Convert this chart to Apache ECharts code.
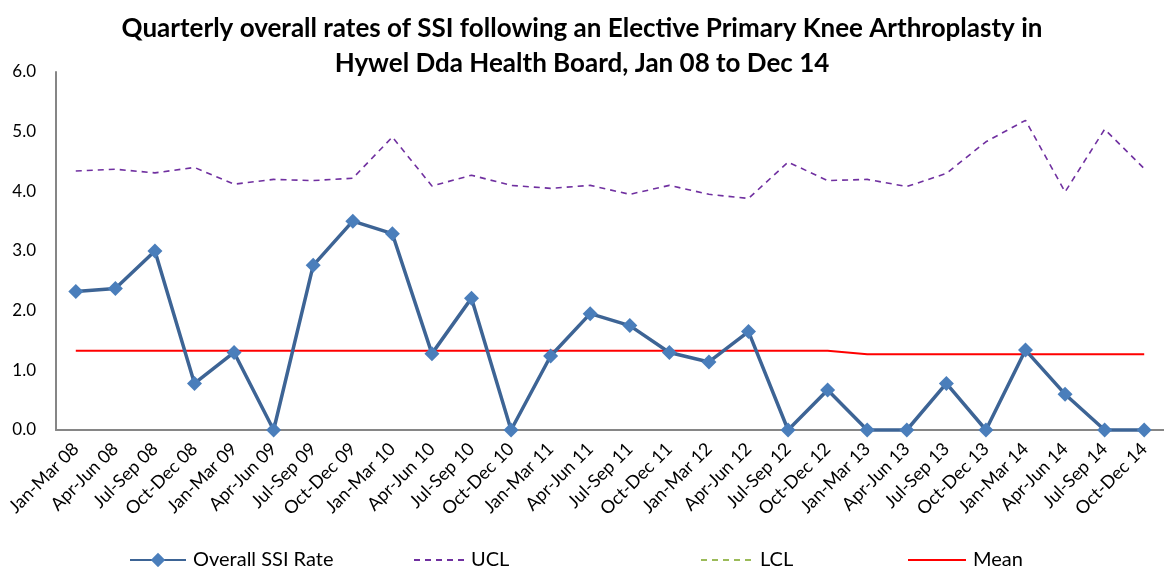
<!DOCTYPE html>
<html>
<head>
<meta charset="utf-8">
<title>SSI knee arthroplasty</title>
<script src="https://cdn.jsdelivr.net/npm/echarts@6/dist/echarts.min.js"></script>
<style>
  html, body { margin: 0; padding: 0; background: #fff; }
  #chart { width: 1164px; height: 567px; }
</style>
</head>
<body>
<div id="chart"></div>
<script>
// quarters
var quarters = [
  "Jan-Mar 08", "Apr-Jun 08", "Jul-Sep 08", "Oct-Dec 08",
  "Jan-Mar 09", "Apr-Jun 09", "Jul-Sep 09", "Oct-Dec 09",
  "Jan-Mar 10", "Apr-Jun 10", "Jul-Sep 10", "Oct-Dec 10",
  "Jan-Mar 11", "Apr-Jun 11", "Jul-Sep 11", "Oct-Dec 11",
  "Jan-Mar 12", "Apr-Jun 12", "Jul-Sep 12", "Oct-Dec 12",
  "Jan-Mar 13", "Apr-Jun 13", "Jul-Sep 13", "Oct-Dec 13",
  "Jan-Mar 14", "Apr-Jun 14", "Jul-Sep 14", "Oct-Dec 14"
];
var ssiRate = [
  2.32, 2.37, 3.0, 0.78, 1.30, 0.0, 2.76, 3.50,
  3.29, 1.28, 2.21, 0.0, 1.24, 1.95, 1.75, 1.30,
  1.14, 1.65, 0.0, 0.67, 0.0, 0.0, 0.78, 0.0,
  1.34, 0.60, 0.0, 0.0
];
var ucl = [
  4.34, 4.37, 4.31, 4.40, 4.12, 4.20, 4.18, 4.22,
  4.91, 4.09, 4.27, 4.10, 4.05, 4.10, 3.95, 4.10,
  3.95, 3.88, 4.49, 4.18, 4.20, 4.08, 4.30, 4.83,
  5.19, 3.99, 5.04, 4.38
];
// LCL sits below zero, nothing shows on the plot
var lcl = [];
var mean = [
  1.33, 1.33, 1.33, 1.33, 1.33, 1.33, 1.33, 1.33,
  1.33, 1.33, 1.33, 1.33, 1.33, 1.33, 1.33, 1.33,
  1.33, 1.33, 1.33, 1.33, 1.27, 1.27, 1.27, 1.27,
  1.27, 1.27, 1.27, 1.27
];
var yTicks = { min: 0, max: 6, step: 1 };

var font = "Lato, 'Open Sans', sans-serif";

function legendAt(name, left, width, hideSymbol) {
  var lg = {
    data: [name],
    left: left,
    top: 545,
    itemWidth: width,
    itemHeight: 18,
    itemGap: 0,
    textStyle: { fontFamily: font, fontSize: 20, color: "#000", padding: [0, 0, 0, 2] }
  };
  if (hideSymbol) {
    lg.itemStyle = { opacity: 0 };
  }
  return lg;
}

var chart = echarts.init(document.getElementById("chart"));
chart.setOption({
  animation: false,
  title: {
    text: "Quarterly overall rates of SSI following an Elective Primary Knee Arthroplasty in\nHywel Dda Health Board, Jan 08 to Dec 14",
    left: "center",
    top: 6,
    textStyle: {
      fontFamily: font,
      fontSize: 26,
      fontWeight: "bold",
      color: "#000",
      lineHeight: 35
    }
  },
  legend: [
    legendAt("Overall SSI Rate", 124, 56, false),
    legendAt("UCL", 408, 50, true),
    legendAt("LCL", 695, 52, true),
    legendAt("Mean", 902, 58, true)
  ],
  grid: { left: 56, top: 72, bottom: 137, right: -9 },
  xAxis: {
    type: "category",
    data: quarters,
    boundaryGap: true,
    axisLine: { lineStyle: { color: "#868686", width: 2 } },
    axisTick: { show: false },
    axisLabel: {
      interval: 0,
      rotate: 45,
      margin: 16,
      fontFamily: font,
      fontSize: 18,
      color: "#000"
    },
    splitLine: { show: false }
  },
  yAxis: {
    type: "value",
    min: yTicks.min,
    max: yTicks.max,
    interval: yTicks.step,
    axisLine: { show: true, lineStyle: { color: "#868686", width: 2 } },
    axisTick: { show: false },
    splitLine: { show: false },
    axisLabel: {
      margin: 20,
      fontFamily: font,
      fontSize: 17,
      color: "#000",
      formatter: function (v) { return v.toFixed(1); }
    }
  },
  series: [
    {
      name: "Mean",
      type: "line",
      data: mean,
      symbol: "none",
      lineStyle: { color: "#ff0000", width: 2 },
      itemStyle: { color: "#ff0000" },
      z: 2
    },
    {
      name: "UCL",
      type: "line",
      data: ucl,
      symbol: "none",
      lineStyle: { color: "#7030a0", width: 1.6, type: [6, 5] },
      itemStyle: { color: "#7030a0" },
      z: 2
    },
    {
      name: "LCL",
      type: "line",
      data: lcl,
      symbol: "none",
      lineStyle: { color: "#9bbb59", width: 1.6, type: [6, 5] },
      itemStyle: { color: "#9bbb59" },
      z: 2
    },
    {
      name: "Overall SSI Rate",
      type: "line",
      data: ssiRate,
      symbol: "diamond",
      symbolSize: 15,
      clip: false,
      lineStyle: { color: "#3d6495", width: 3.5 },
      itemStyle: { color: "#4a7ebb" },
      z: 3
    }
  ]
});
</script>
</body>
</html>
